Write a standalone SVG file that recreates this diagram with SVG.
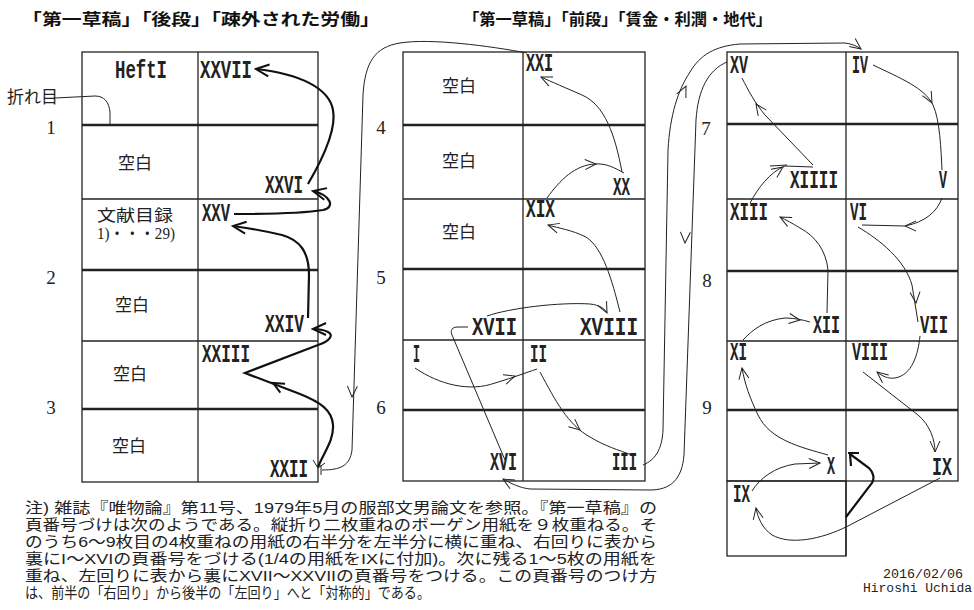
<svg xmlns="http://www.w3.org/2000/svg" width="974" height="610" viewBox="0 0 974 610">
<style>
.g{fill:none;stroke:#222;stroke-width:1.3}
.gk{fill:none;stroke:#222;stroke-width:2.6}
.t{fill:none;stroke:#222;stroke-width:1}
.k{fill:none;stroke:#111;stroke-width:2.2}
.n{font-family:"Liberation Mono","DejaVu Sans Mono",monospace;font-weight:bold;font-size:25px;fill:#222}
.j{font-family:"Noto Sans CJK JP",sans-serif;font-size:17px;fill:#222}
.h{font-family:"Noto Sans CJK JP",sans-serif;font-weight:bold;font-size:16px;fill:#111}
.r{font-family:"Liberation Serif",serif;font-size:19px;fill:#222;text-anchor:middle}
.m{font-family:"Liberation Mono",monospace;font-size:12px;fill:#222}
.note{font-family:"Liberation Sans","Noto Sans CJK JP",sans-serif;font-size:15px;fill:#222}
</style>
<defs>
<marker id="a" markerUnits="userSpaceOnUse" markerWidth="14" markerHeight="12" refX="12" refY="6" orient="auto" viewBox="0 0 14 12"><path d="M1,1 L12,6 L1,11" fill="none" stroke="#222" stroke-width="1"/></marker>
<marker id="ak" markerUnits="userSpaceOnUse" markerWidth="16" markerHeight="14" refX="14" refY="7" orient="auto" viewBox="0 0 16 14"><path d="M1,1 L14,7 L1,13" fill="none" stroke="#111" stroke-width="2"/></marker>
<path id="mh" d="M-11,-5 L0,0 L-11,5" fill="none" stroke="#222" stroke-width="1"/>
<path id="mhk" d="M-11,-5 L0,0 L-11,5" fill="none" stroke="#111" stroke-width="2"/>
</defs>
<rect width="974" height="610" fill="#fff"/>

<g id="titles">
<text class="h" x="22" y="25" textLength="358" lengthAdjust="spacingAndGlyphs">「第一草稿」「後段」「疎外された労働」</text>
<text class="h" x="463" y="25" textLength="309" lengthAdjust="spacingAndGlyphs">「第一草稿」「前段」「賃金・利潤・地代」</text>
</g>

<g id="grid-left">
<rect class="g" x="82" y="52" width="236" height="430"/>
<line class="g" x1="198" y1="52" x2="198" y2="482"/>
<line class="gk" x1="82" y1="125" x2="318" y2="125"/>
<line class="g" x1="82" y1="199" x2="318" y2="199"/>
<line class="gk" x1="82" y1="270" x2="318" y2="270"/>
<line class="g" x1="82" y1="341" x2="318" y2="341"/>
<line class="gk" x1="82" y1="409" x2="318" y2="409"/>
</g>
<g id="grid-middle">
<rect class="g" x="403" y="52" width="242" height="429"/>
<line class="g" x1="523" y1="52" x2="523" y2="481"/>
<line class="gk" x1="403" y1="125" x2="645" y2="125"/>
<line class="g" x1="403" y1="199" x2="645" y2="199"/>
<line class="gk" x1="403" y1="269" x2="645" y2="269"/>
<line class="g" x1="403" y1="340" x2="645" y2="340"/>
<line class="gk" x1="403" y1="410" x2="645" y2="410"/>
</g>
<g id="grid-right">
<rect class="g" x="727" y="52" width="231" height="429"/>
<rect class="g" x="727" y="481" width="119" height="75"/>
<line class="g" x1="846" y1="52" x2="846" y2="556"/>
<line class="gk" x1="727" y1="124" x2="958" y2="124"/>
<line class="g" x1="727" y1="199" x2="958" y2="199"/>
<line class="gk" x1="727" y1="271" x2="958" y2="271"/>
<line class="g" x1="727" y1="341" x2="958" y2="341"/>
<line class="gk" x1="727" y1="410" x2="958" y2="410"/>
</g>

<g id="row-numbers">
<text class="r" x="51" y="134">1</text>
<text class="r" x="51" y="284">2</text>
<text class="r" x="51" y="414">3</text>
<text class="r" x="381" y="134">4</text>
<text class="r" x="381" y="284">5</text>
<text class="r" x="381" y="414">6</text>
<text class="r" x="706" y="135">7</text>
<text class="r" x="707" y="287">8</text>
<text class="r" x="707" y="414">9</text>
</g>

<g id="fold-label">
<text class="j" x="7" y="103" font-size="16">折れ目</text>
</g>

<g id="cell-texts">
<text class="j" x="118" y="169">空白</text>
<text x="97" y="221" textLength="76" lengthAdjust="spacingAndGlyphs" style="font-family:'Liberation Sans','Noto Sans CJK JP',sans-serif;font-size:16px;fill:#222">文献目録</text>
<text x="97" y="239" textLength="78" lengthAdjust="spacingAndGlyphs" style="font-family:'Liberation Serif','Noto Sans CJK JP',serif;font-size:16px;fill:#222">1)・・・29)</text>
<text class="j" x="115" y="311">空白</text>
<text class="j" x="113" y="380">空白</text>
<text class="j" x="112" y="452">空白</text>
<text class="j" x="442" y="92">空白</text>
<text class="j" x="442" y="167">空白</text>
<text class="j" x="442" y="238">空白</text>
</g>

<g id="p-heft"><text class="n" x="115" y="78" textLength="52" lengthAdjust="spacingAndGlyphs">HeftI</text></g>
<g id="p-xxvii"><text class="n" x="200" y="78" textLength="52" lengthAdjust="spacingAndGlyphs">XXVII</text></g>
<g id="p-xxvi"><text class="n" x="265" y="193" textLength="38" lengthAdjust="spacingAndGlyphs">XXVI</text></g>
<g id="p-xxv"><text class="n" x="202" y="221" textLength="28" lengthAdjust="spacingAndGlyphs">XXV</text></g>
<g id="p-xxiv"><text class="n" x="265" y="332" textLength="39" lengthAdjust="spacingAndGlyphs">XXIV</text></g>
<g id="p-xxiii"><text class="n" x="202" y="362" textLength="48" lengthAdjust="spacingAndGlyphs">XXIII</text></g>
<g id="p-xxii"><text class="n" x="270" y="477" textLength="38" lengthAdjust="spacingAndGlyphs">XXII</text></g>

<g id="p-xxi"><text class="n" x="526" y="71" textLength="27" lengthAdjust="spacingAndGlyphs">XXI</text></g>
<g id="p-xx"><text class="n" x="613" y="195" textLength="17" lengthAdjust="spacingAndGlyphs">XX</text></g>
<g id="p-xix"><text class="n" x="526" y="217" textLength="29" lengthAdjust="spacingAndGlyphs">XIX</text></g>
<g id="p-xviii"><text class="n" x="580" y="335" textLength="58" lengthAdjust="spacingAndGlyphs">XVIII</text></g>
<g id="p-xvii"><text class="n" x="472" y="335" textLength="45" lengthAdjust="spacingAndGlyphs">XVII</text></g>
<g id="p-i"><text class="n" x="413" y="362" textLength="7" lengthAdjust="spacingAndGlyphs">I</text></g>
<g id="p-ii"><text class="n" x="530" y="362" textLength="17" lengthAdjust="spacingAndGlyphs">II</text></g>
<g id="p-xvi"><text class="n" x="490" y="470" textLength="27" lengthAdjust="spacingAndGlyphs">XVI</text></g>
<g id="p-iii"><text class="n" x="612" y="470" textLength="25" lengthAdjust="spacingAndGlyphs">III</text></g>

<g id="p-xv"><text class="n" x="730" y="73" textLength="18" lengthAdjust="spacingAndGlyphs">XV</text></g>
<g id="p-iv"><text class="n" x="852" y="73" textLength="16" lengthAdjust="spacingAndGlyphs">IV</text></g>
<g id="p-xiiii"><text class="n" x="790" y="188" textLength="48" lengthAdjust="spacingAndGlyphs">XIIII</text></g>
<g id="p-v"><text class="n" x="939" y="188" textLength="8" lengthAdjust="spacingAndGlyphs">V</text></g>
<g id="p-xiii"><text class="n" x="730" y="220" textLength="38" lengthAdjust="spacingAndGlyphs">XIII</text></g>
<g id="p-vi"><text class="n" x="850" y="220" textLength="17" lengthAdjust="spacingAndGlyphs">VI</text></g>
<g id="p-xii"><text class="n" x="813" y="333" textLength="27" lengthAdjust="spacingAndGlyphs">XII</text></g>
<g id="p-vii"><text class="n" x="920" y="333" textLength="28" lengthAdjust="spacingAndGlyphs">VII</text></g>
<g id="p-xi"><text class="n" x="730" y="360" textLength="17" lengthAdjust="spacingAndGlyphs">XI</text></g>
<g id="p-viii"><text class="n" x="852" y="360" textLength="36" lengthAdjust="spacingAndGlyphs">VIII</text></g>
<g id="p-x"><text class="n" x="827" y="474" textLength="8" lengthAdjust="spacingAndGlyphs">X</text></g>
<g id="p-ix-a"><text class="n" x="932" y="475" textLength="20" lengthAdjust="spacingAndGlyphs">IX</text></g>
<g id="p-ix-b"><text class="n" x="733" y="502" textLength="17" lengthAdjust="spacingAndGlyphs">IX</text></g>

<g id="connectors">
<path class="t" d="M55,98 L95,96 C104,96 109,102 110,112 L110,125"/>
<path class="k" d="M308,184 C322,160 337,130 333,110 C329,88 300,74 256,69" marker-end="url(#ak)"/>
<path class="k" d="M234,214 C270,214 305,213 323,210 C336,207 330,195 313,191" marker-end="url(#ak)"/>
<path class="k" d="M308,318 L309,275 C309,252 300,240 282,235 C265,231 248,228 233,226" marker-end="url(#ak)"/>
<path class="k" d="M318,467 C324,452 334,440 333,425 C332,410 320,402 300,394 L245,373 L318,345 C330,341 334,335 328,332 C322,329 318,329 313,329" marker-end="url(#ak)"/>
<use href="#mhk" transform="translate(273,383) rotate(208)"/>
<path class="t" d="M313,460 L318,468 L325,463"/>
<path class="t" d="M527,53 C490,46 430,38 400,43 C375,47 365,62 363,95 L352,450 C350,466 340,470 322,470"/>
<path class="t" d="M321,465 L321,475"/>
<use href="#mh" transform="translate(352,397) rotate(92)"/>
<path class="t" d="M622,172 C615,135 605,105 582,95 C566,88 552,82 541,77" marker-end="url(#a)"/>
<path class="t" d="M547,198 C560,180 575,165 595,164 C606,163 615,168 624,173"/>
<use href="#mh" transform="translate(596,164) rotate(-3)"/>
<path class="t" d="M620,312 C612,280 603,248 586,237 C572,230 558,228 548,225" marker-end="url(#a)"/>
<path class="t" d="M487,316 C510,308 560,302 590,304 C600,305 605,309 607,313" marker-end="url(#a)"/>
<path class="t" d="M505,460 L452,335 C450,330 452,327 458,327 L468,327"/>
<path class="t" d="M415,368 C440,385 470,392 495,383 C515,377 525,373 537,369"/>
<use href="#mh" transform="translate(515,376) rotate(-18)"/>
<path class="t" d="M540,372 C555,400 568,425 590,437 C605,446 618,450 632,455"/>
<use href="#mh" transform="translate(580,430) rotate(40)"/>
<path class="t" d="M643,465 C655,460 662,450 663,430 L668,150 C670,115 678,90 690,72 C700,55 715,46 740,44 L845,43 C852,44 857,46 861,49" marker-end="url(#a)"/>
<use href="#mh" transform="translate(686,86) rotate(-65)"/>
<path class="t" d="M727,62 C708,70 698,90 696,120 L684,455 C682,480 670,490 650,490 L530,489 C520,488 510,483 503,479" marker-end="url(#a)"/>
<use href="#mh" transform="translate(685,243) rotate(92)"/>
<path class="t" d="M873,65 C900,78 925,88 933,105 C940,120 941,150 942,170"/>
<use href="#mh" transform="translate(932,103) rotate(62)"/>
<path class="t" d="M942,198 C937,212 925,222 905,226 L862,225"/>
<use href="#mh" transform="translate(905,226) rotate(180)"/>
<path class="t" d="M858,227 C880,240 905,260 912,285 L918,322"/>
<use href="#mh" transform="translate(916,303) rotate(85)"/>
<path class="t" d="M920,336 C918,355 912,375 895,378 C888,379 882,376 877,372" marker-end="url(#a)"/>
<path class="t" d="M863,372 L918,415 C930,425 935,440 935,452" marker-end="url(#a)"/>
<path class="t" d="M940,478 L848,526 C820,540 790,545 772,535 C762,528 758,518 756,508" marker-end="url(#a)"/>
<path class="t" d="M752,491 C760,478 775,467 795,464 L820,463" marker-end="url(#a)"/>
<path class="t" d="M828,455 C800,447 770,440 758,415 C750,398 745,385 742,368" marker-end="url(#a)"/>
<path class="t" d="M743,340 C752,330 765,320 785,318 C795,318 803,320 810,322"/>
<use href="#mh" transform="translate(800,320) rotate(8)"/>
<path class="t" d="M827,313 L828,270 C826,250 815,236 800,228 C792,223 786,220 780,217" marker-end="url(#a)"/>
<path class="t" d="M750,203 C758,188 770,172 785,166 L813,167"/>
<path class="t" d="M770,166 L787,165"/>
<use href="#mh" transform="translate(783,167) rotate(-35)"/>
<path class="t" d="M813,165 L765,115 C755,103 748,90 742,78"/>
<use href="#mh" transform="translate(756,104) rotate(235)"/>
<path class="k" d="M846,517 L872,483 C875,478 873,472 869,468 L850,454"/>
<path class="k" d="M848,453 L859,453 M850,454 L851,466"/>
</g>

<g id="note">
<text class="note" x="25" y="513" textLength="632" lengthAdjust="spacingAndGlyphs">注) 雑誌『唯物論』第11号、1979年5月の服部文男論文を参照。『第一草稿』の</text>
<text class="note" x="25" y="530" textLength="632" lengthAdjust="spacingAndGlyphs">頁番号づけは次のようである。縦折り二枚重ねのボーゲン用紙を９枚重ねる。そ</text>
<text class="note" x="25" y="547" textLength="632" lengthAdjust="spacingAndGlyphs">のうち6～9枚目の4枚重ねの用紙の右半分を左半分に横に重ね、右回りに表から</text>
<text class="note" x="25" y="564" textLength="632" lengthAdjust="spacingAndGlyphs">裏にI～XVIの頁番号をづける(1/4の用紙をIXに付加)。次に残る1～5枚の用紙を</text>
<text class="note" x="25" y="581" textLength="632" lengthAdjust="spacingAndGlyphs">重ね、左回りに表から裏にXVII～XXVIIの頁番号をつける。この頁番号のつけ方</text>
<text class="note" x="25" y="598" textLength="405" lengthAdjust="spacingAndGlyphs">は、前半の「右回り」から後半の「左回り」へと「対称的」である。</text>
</g>

<g id="signature">
<text class="m" x="883" y="578" textLength="80" lengthAdjust="spacingAndGlyphs">2016/02/06</text>
<text class="m" x="863" y="592" textLength="109" lengthAdjust="spacingAndGlyphs">Hiroshi Uchida</text>
</g>
</svg>
